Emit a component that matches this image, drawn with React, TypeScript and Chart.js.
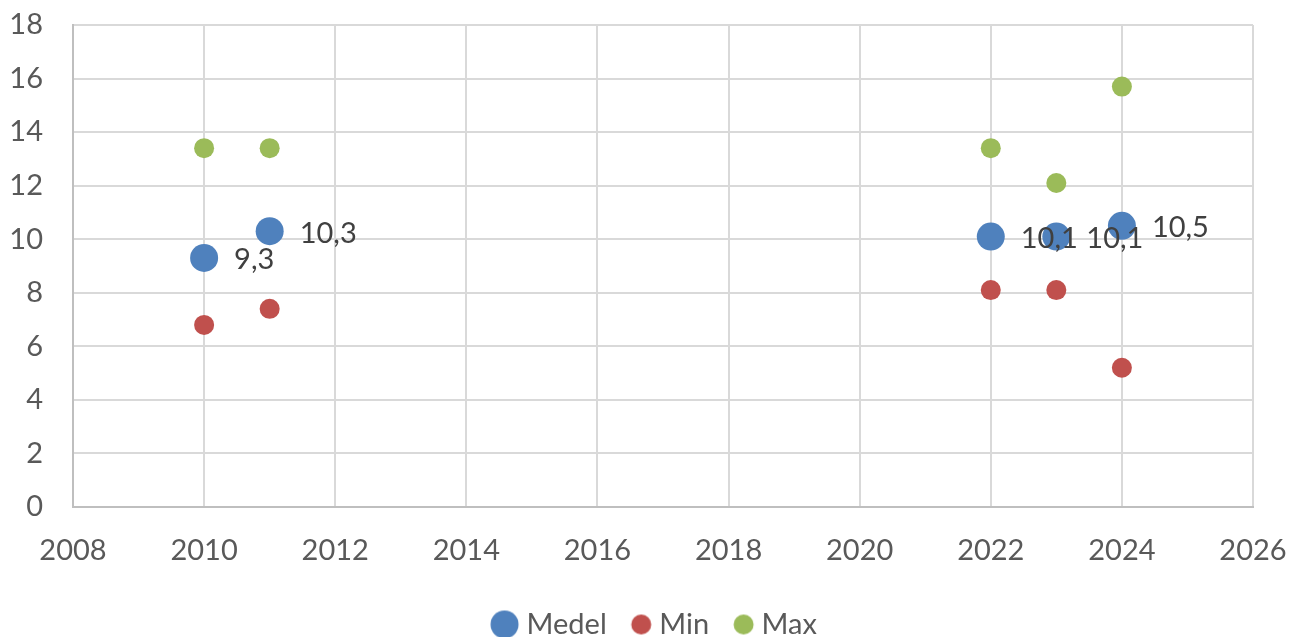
import React, { useEffect, useRef } from "react";
import { Chart, registerables } from "chart.js";

Chart.register(...registerables);

const years = [2010, 2011, 2022, 2023, 2024];
const medel = [9.3, 10.3, 10.1, 10.1, 10.5];
const minVals = [6.8, 7.4, 8.1, 8.1, 5.2];
const maxVals = [13.4, 13.4, 13.4, 12.1, 15.7];
const seriesNames = ["Medel", "Min", "Max"];
const seriesColors = ["#4F81BD", "#C0504D", "#9BBB59"];
const seriesRadius = [14, 10, 10];

const FONT = "Lato";
const FS = 29;
const LEG_BOX = 38;

function legendImage(color: string, r: number) {
  const off = LEG_BOX / 2 + 6.5 - r;
  const half = Math.ceil(off + r + 2);
  const c = document.createElement("canvas");
  c.width = half * 2;
  c.height = Math.ceil(r * 2 + 4);
  const ctx = c.getContext("2d")!;
  ctx.fillStyle = color;
  ctx.beginPath();
  ctx.arc(half + off, c.height / 2, r, 0, Math.PI * 2);
  ctx.fill();
  return c;
}

const labelPlugin = {
  id: "medelLabels",
  afterDatasetsDraw(chart: any) {
    const meta = chart.getDatasetMeta(0);
    const ctx = chart.ctx;
    ctx.save();
    ctx.font = `${FS}px ${FONT}`;
    ctx.fillStyle = "#404040";
    ctx.textAlign = "left";
    ctx.textBaseline = "middle";
    meta.data.forEach((pt: any, i: number) => {
      const txt = String(medel[i]).replace(".", ",");
      ctx.fillText(txt, pt.x + 30, pt.y + 2);
    });
    ctx.restore();
  },
};

const legendShift = {
  id: "legendShift",
  afterLayout(chart: any) {
    const lg = chart.legend;
    if (!lg) return;
    lg.top += 12;
    lg.bottom += 12;
    lg.left += 19;
    lg.right += 19;
  },
};

export default function App() {
  const ref = useRef<HTMLCanvasElement>(null);
  useEffect(() => {
    document.body.style.margin = "0";
    const series = [medel, minVals, maxVals];
    const chart = new Chart(ref.current!, {
      type: "scatter",
      data: {
        datasets: series.map((vals, s) => ({
          label: seriesNames[s],
          data: years.map((y, i) => ({ x: y, y: vals[i] })),
          backgroundColor: seriesColors[s],
          borderColor: seriesColors[s],
          borderWidth: 0,
          pointRadius: seriesRadius[s],
          pointHoverRadius: seriesRadius[s],
        })),
      },
      options: {
        responsive: false,
        animation: false,
        devicePixelRatio: 1,
        layout: { padding: { left: 0, right: 38, top: 25, bottom: 0 } },
        plugins: {
          tooltip: { enabled: false },
          legend: {
            position: "bottom",
            labels: {
              usePointStyle: true,
              pointStyleWidth: LEG_BOX,
              padding: 0,
              color: "#595959",
              font: { family: FONT, size: FS },
              generateLabels: (ch: any) =>
                ch.data.datasets.map((ds: any, i: number) => ({
                  text: ds.label,
                  pointStyle: legendImage(seriesColors[i], seriesRadius[i]),
                  fillStyle: seriesColors[i],
                  strokeStyle: seriesColors[i],
                  lineWidth: 0,
                  fontColor: "#595959",
                  hidden: false,
                  datasetIndex: i,
                })),
            },
          },
        },
        scales: {
          x: {
            type: "linear",
            min: 2008,
            max: 2026,
            afterFit: (s: any) => {
              s.height = 91;
              s.paddingLeft = 0;
              s.paddingRight = 0;
            },
            ticks: {
              stepSize: 2,
              padding: 26,
              color: "#595959",
              font: { family: FONT, size: FS },
              maxRotation: 0,
              callback: (v: any) => String(v),
            },
            grid: { color: "#D9D9D9", lineWidth: 2, drawTicks: false },
            border: { color: "#BFBFBF", width: 2 },
          },
          y: {
            min: 0,
            max: 18,
            afterFit: (s: any) => {
              s.width = 73;
              s.paddingTop = 0;
              s.paddingBottom = 0;
            },
            ticks: {
              stepSize: 2,
              padding: 30,
              color: "#595959",
              font: { family: FONT, size: FS },
            },
            grid: { color: "#D9D9D9", lineWidth: 2, drawTicks: false },
            border: { color: "#BFBFBF", width: 2 },
          },
        },
      },
      plugins: [labelPlugin, legendShift],
    } as any);
    return () => chart.destroy();
  }, []);
  return (
    <div style={{ position: "fixed", left: 0, top: 0, width: 1291, height: 637, background: "#fff" }}>
      <canvas ref={ref} width={1291} height={637} />
    </div>
  );
}
